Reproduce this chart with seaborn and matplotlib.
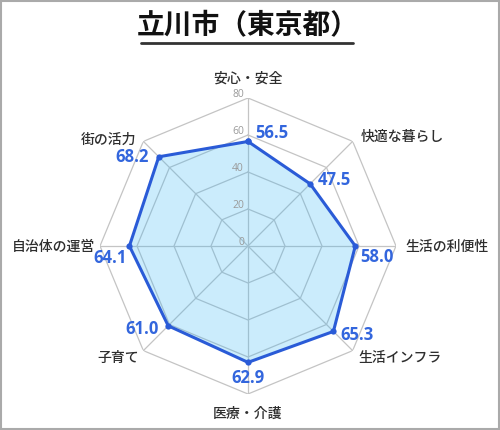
import numpy as np
import pandas as pd
import matplotlib
matplotlib.use("Agg")
import matplotlib.pyplot as plt
from matplotlib.patches import Rectangle
from matplotlib.lines import Line2D
import seaborn as sns

title = "立川市（東京都）"
categories = ["安心・安全", "快適な暮らし", "生活の利便性", "生活インフラ",
              "医療・介護", "子育て", "自治体の運営", "街の活力"]
values = [56.5, 47.5, 58.0, 65.3, 62.9, 61.0, 64.1, 68.2]
ring_ticks = [0, 20, 40, 60, 80]

sns.set_theme(style="white")
plt.rcParams["font.family"] = ["Noto Sans CJK JP", "DejaVu Sans"]

W, H = 500, 430
fig = plt.figure(figsize=(W / 100, H / 100), dpi=100)
fig.patch.set_facecolor("white")

# centre (248, 246) px, radius 148 px for 80
cx, cy, R = 248 / W, 1 - 246 / H, 148
ax = fig.add_axes([cx - R / W, cy - R / H, 2 * R / W, 2 * R / H], projection="polar")
ax.set_theta_zero_location("N")
ax.set_theta_direction(-1)
ax.set_ylim(0, 80)
ax.grid(False)
ax.spines["polar"].set_visible(False)
ax.set_xticks([])
ax.set_yticks([])
ax.patch.set_alpha(0)

n = len(categories)
angles = np.arange(n) * 2 * np.pi / n
closed_angles = np.append(angles, 2 * np.pi)

grid_col = "#c4c4c4"
for t in ring_ticks[1:]:
    ax.plot(closed_angles, [t] * (n + 1), color=grid_col, lw=0.9, zorder=1)
for a in angles:
    ax.plot([a, a], [0, 80], color=grid_col, lw=0.9, zorder=1)

df = pd.DataFrame({"theta": closed_angles, "score": values + values[:1]})
ax.fill(df["theta"], df["score"], color="#33b5f5", alpha=0.25, zorder=2, lw=0)
sns.lineplot(data=df, x="theta", y="score", ax=ax, sort=False, color="#2a5bd7",
             lw=2.2, marker="o", markersize=4.5, markeredgewidth=0, zorder=3)
ax.set_xlabel("")
ax.set_ylabel("")

k = 0.72  # px -> pt
# ring tick labels
for t in ring_ticks:
    ax.annotate(str(t), xy=(0, t), xytext=(-4 * k, 3 * k), textcoords="offset points",
                ha="right", va="center", fontsize=7.5, color="#9a9a9a",
                family=["Open Sans", "DejaVu Sans"], zorder=4)

# category labels: (dx px, dy px down, ha)
cat_off = [(0, -19, "center"), (8, -4, "left"), (9, 1, "left"), (6, 7, "left"),
           (0, 20, "center"), (-4, 7, "right"), (-5, 1, "right"), (-7, -2, "right")]
for a, lab, (dx, dy, ha) in zip(angles, categories, cat_off):
    ax.annotate(lab, xy=(a, 80), xytext=(dx * k, -dy * k), textcoords="offset points",
                ha=ha, va="center", fontsize=10, fontweight="medium", color="#2e2e2e",
                annotation_clip=False)

# value labels
val_off = [(7, -8, "left"), (8, -4, "left"), (5, 11, "left"), (7, 4, "left"),
           (0, 16, "center"), (-9, 3, "right"), (-3, 12, "right"), (-10, 0, "right")]
for a, v, (dx, dy, ha) in zip(angles, values, val_off):
    ax.annotate(f"{v:.1f}", xy=(a, v), xytext=(dx * k, -dy * k), textcoords="offset points",
                ha=ha, va="center", fontsize=12, fontweight="bold", color="#3366dd",
                family=["Open Sans", "DejaVu Sans"], zorder=5, annotation_clip=False)

# title with underline
fig.text(248 / W, 1 - 26 / H, title, ha="center", va="center", fontsize=20,
         fontweight="bold", color="#111111")
fig.add_artist(Line2D([141 / W, 353 / W], [1 - 43 / H, 1 - 43 / H], color="#333333",
                      lw=2, transform=fig.transFigure))

# frame
fig.add_artist(Rectangle((1 / W, 1 / H), 1 - 2 / W, 1 - 2 / H, transform=fig.transFigure,
                         fill=False, edgecolor="#aaaaaa", lw=1.5))

fig.savefig("out.png", dpi=100, facecolor="white")
